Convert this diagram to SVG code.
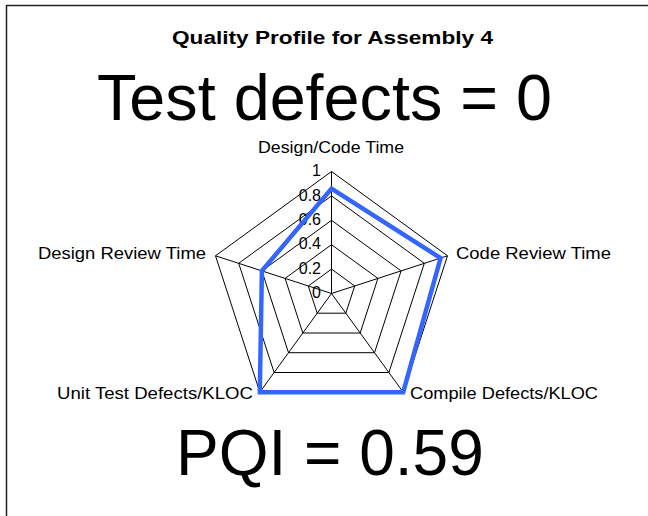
<svg xmlns="http://www.w3.org/2000/svg" width="648" height="516" viewBox="0 0 648 516">
<style>
text{font-family:"Liberation Sans",Arial,sans-serif;fill:#000}
.lbl{font-size:16.5px}
.tick{font-size:16px;text-anchor:end}
.big{font-size:64px}
.grid{fill:none;stroke:#000;stroke-width:1}
.data{fill:none;stroke:#3366FF;stroke-width:4.5;stroke-linejoin:miter}
</style>
<rect x="6.5" y="5.5" width="700" height="600" fill="#fff" stroke="#222" stroke-width="1.5"/>
<text x="172" y="44" font-size="18" font-weight="bold" textLength="321" lengthAdjust="spacingAndGlyphs">Quality Profile for Assembly 4</text>
<text class="big" x="97" y="120" textLength="455" lengthAdjust="spacingAndGlyphs">Test defects = 0</text>
<g id="chart">
<g id="grid">
<polygon class="grid" points="331.5,171.5 447.5,255.8 403.2,392.2 259.8,392.2 215.5,255.8"/>
<polygon class="grid" points="331.5,195.9 424.3,263.3 388.9,372.5 274.1,372.5 238.7,263.3"/>
<polygon class="grid" points="331.5,220.3 401.1,270.9 374.5,352.7 288.5,352.7 261.9,270.9"/>
<polygon class="grid" points="331.5,244.7 377.9,278.4 360.2,333.0 302.8,333.0 285.1,278.4"/>
<polygon class="grid" points="331.5,269.1 354.7,286.0 345.8,313.2 317.2,313.2 308.3,286.0"/>
<path class="grid" d="M331.5,293.5L331.5,171.5M331.5,293.5L447.5,255.8M331.5,293.5L403.2,392.2M331.5,293.5L259.8,392.2M331.5,293.5L215.5,255.8"/>
</g>
<g id="ticks">
<text class="tick" x="321" y="176">1</text>
<text class="tick" x="321" y="200.5">0.8</text>
<text class="tick" x="321" y="225">0.6</text>
<text class="tick" x="321" y="249">0.4</text>
<text class="tick" x="321" y="273.5">0.2</text>
<text class="tick" x="321" y="298">0</text>
</g>
<polygon id="series" class="data" points="331.5,188.6 440.6,258.1 403.2,392.2 259.8,392.2 261.9,270.9"/>
</g>
<g id="labels">
<text id="n-design-code" class="lbl" x="258" y="153" textLength="146" lengthAdjust="spacingAndGlyphs">Design/Code Time</text>
<text id="n-code-review" class="lbl" x="456" y="259" textLength="155" lengthAdjust="spacingAndGlyphs">Code Review  Time</text>
<text id="n-compile" class="lbl" x="410" y="399" textLength="188" lengthAdjust="spacingAndGlyphs">Compile Defects/KLOC</text>
<text id="n-unit-test" class="lbl" x="57" y="399" textLength="196" lengthAdjust="spacingAndGlyphs">Unit Test Defects/KLOC</text>
<text id="n-design-review" class="lbl" x="38" y="259" textLength="168" lengthAdjust="spacingAndGlyphs">Design Review  Time</text>
</g>
<text class="big" x="176" y="475">PQI = 0.59</text>
</svg>
